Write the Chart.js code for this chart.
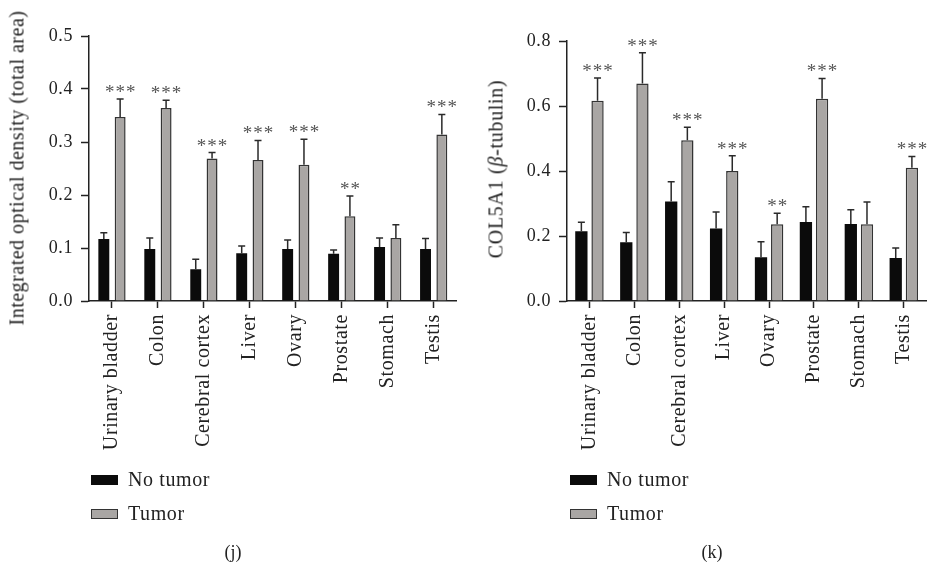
<!DOCTYPE html>
<html lang="en">
<head>
    <meta charset="UTF-8">
    <title>COL5A1 expression: No tumor vs Tumor</title>
    <script src="https://cdn.jsdelivr.net/npm/chart.js"></script>
    <style>
        body { margin: 0; width: 928px; height: 562px; overflow: hidden; background: #fff;
               font-family: "Liberation Serif", serif; color: #222; position: relative; }
        canvas { position: absolute; top: 0; }
        #graficoJ { left: 0; }
        #graficoK { left: 464px; }
        .titulo-y { position: absolute; white-space: nowrap; font-size: 20px;
                    transform: translate(-50%, -50%) rotate(-90deg); }
        .leyenda { position: absolute; font-size: 20px; letter-spacing: 0.6px;
                   display: flex; align-items: center; }
        .caja { width: 27px; height: 10px; margin-right: 10px; box-sizing: border-box; }
        .negra { background: #0b0b0b; }
        .gris { background: #a9a6a4; border: 1.5px solid #333; }
        .pie { position: absolute; font-size: 18px; transform: translate(-50%, -50%); }
    </style>
</head>
<body>
    <canvas id="graficoJ" width="464" height="480"></canvas>
    <canvas id="graficoK" width="470" height="480"></canvas>

    <div class="titulo-y" style="left:17px; top:168px; letter-spacing:0.5px;">Integrated optical density (total area)</div>
    <div class="titulo-y" style="left:496px; top:169px; letter-spacing:0.7px;">COL5A1 (<i>β</i>-tubulin)</div>

    <div class="leyenda" style="left:91px; top:468px;"><span class="caja negra"></span>No tumor</div>
    <div class="leyenda" style="left:91px; top:502px;"><span class="caja gris"></span>Tumor</div>
    <div class="leyenda" style="left:570px; top:468px;"><span class="caja negra"></span>No tumor</div>
    <div class="leyenda" style="left:570px; top:502px;"><span class="caja gris"></span>Tumor</div>

    <div class="pie" style="left:233px; top:552px;">(j)</div>
    <div class="pie" style="left:712px; top:552px;">(k)</div>

    <script>
        const tejidos = ["Urinary bladder", "Colon", "Cerebral cortex", "Liver",
                         "Ovary", "Prostate", "Stomach", "Testis"];

        // (j) densidad óptica integrada
        const sinTumorJ    = [0.117, 0.098, 0.060, 0.090, 0.098, 0.089, 0.102, 0.098];
        const sinTumorJErr = [0.012, 0.021, 0.019, 0.014, 0.017, 0.007, 0.017, 0.020];
        const tumorJ       = [0.347, 0.364, 0.269, 0.266, 0.257, 0.160, 0.119, 0.314];
        const tumorJErr    = [0.034, 0.015, 0.011, 0.037, 0.048, 0.038, 0.025, 0.038];
        const signifJ      = ["***", "***", "***", "***", "***", "**", "", "***"];
        const ticksJ       = [0, 0.1, 0.2, 0.3, 0.4, 0.5];

        // (k) COL5A1 / beta-tubulina
        const sinTumorK    = [0.215, 0.181, 0.306, 0.223, 0.135, 0.243, 0.237, 0.132];
        const sinTumorKErr = [0.027, 0.030, 0.061, 0.051, 0.047, 0.047, 0.044, 0.031];
        const tumorK       = [0.616, 0.669, 0.495, 0.400, 0.236, 0.622, 0.236, 0.410];
        const tumorKErr    = [0.070, 0.095, 0.040, 0.047, 0.034, 0.063, 0.069, 0.035];
        const signifK      = ["***", "***", "***", "***", "**", "***", "", "***"];
        const ticksK       = [0, 0.2, 0.4, 0.6, 0.8];

        const fuente = '"Liberation Serif", serif';
        const colorEje = '#222';

        // la fuente original es algo mas ancha: se abre un poco el espaciado
        const pluginEspaciado = {
            id: 'espaciado',
            beforeDraw(chart) { chart.ctx.letterSpacing = '0.6px'; }
        };

        // barras de error (solo hacia arriba) y asteriscos
        const pluginErrores = {
            id: 'errores',
            afterDatasetsDraw(chart) {
                const ctx = chart.ctx;
                const escalaY = chart.scales.y;
                chart.data.datasets.forEach((ds, di) => {
                    const meta = chart.getDatasetMeta(di);
                    meta.data.forEach((barra, i) => {
                        const arriba = escalaY.getPixelForValue(ds.data[i] + ds.errores[i]);
                        ctx.save();
                        ctx.strokeStyle = '#2a2a2a';
                        ctx.lineWidth = 1.5;
                        ctx.beginPath();
                        ctx.moveTo(barra.x, barra.y);
                        ctx.lineTo(barra.x, arriba);
                        ctx.moveTo(barra.x - 3.5, arriba);
                        ctx.lineTo(barra.x + 3.5, arriba);
                        ctx.stroke();
                        if (ds.asteriscos && ds.asteriscos[i]) {
                            ctx.letterSpacing = '1px';
                            ctx.fillStyle = '#555';
                            ctx.font = '19px ' + fuente;
                            ctx.textAlign = 'center';
                            ctx.textBaseline = 'alphabetic';
                            ctx.fillText(ds.asteriscos[i], barra.x + 0.5, arriba - 1);
                        }
                        ctx.restore();
                    });
                });
            }
        };

        function crearGrafico(id, valores, cfg) {
            const ctx = document.getElementById(id).getContext('2d');
            return new Chart(ctx, {
                type: 'bar',
                data: {
                    labels: tejidos,
                    datasets: [
                        {
                            label: 'No tumor',
                            data: valores.sinTumor,
                            errores: valores.sinTumorErr,
                            backgroundColor: '#0b0b0b',
                            borderWidth: 0,
                            categoryPercentage: cfg.catPct,
                            barPercentage: cfg.barPct
                        },
                        {
                            label: 'Tumor',
                            data: valores.tumor,
                            errores: valores.tumorErr,
                            asteriscos: valores.signif,
                            backgroundColor: '#a9a6a4',
                            borderColor: '#333',
                            borderWidth: 1.5,
                            categoryPercentage: cfg.catPct,
                            barPercentage: cfg.barPct
                        }
                    ]
                },
                options: {
                    responsive: false,
                    animation: false,
                    layout: { padding: { left: 0, right: cfg.derecha, top: cfg.arriba, bottom: 0 } },
                    plugins: {
                        legend: { display: false },
                        tooltip: { enabled: false }
                    },
                    scales: {
                        x: {
                            grid: { display: true, drawOnChartArea: false, offset: false,
                                    tickLength: 7, tickWidth: 1.5, tickColor: colorEje },
                            border: { display: true, color: colorEje, width: 1.5 },
                            ticks: { minRotation: 90, maxRotation: 90, padding: 6,
                                     color: colorEje, font: { family: fuente, size: 20 } },
                            afterFit: s => { s.height = 480 - 301; }
                        },
                        y: {
                            min: 0,
                            max: cfg.ticks[cfg.ticks.length - 1],
                            afterBuildTicks: s => { s.ticks = cfg.ticks.map(v => ({ value: v })); },
                            grid: { display: true, drawOnChartArea: false,
                                    tickLength: 8, tickWidth: 1.5, tickColor: colorEje },
                            border: { display: true, color: colorEje, width: 1.5 },
                            ticks: { padding: 8, color: colorEje,
                                     font: { family: fuente, size: 18 },
                                     callback: v => Number(v).toFixed(1) },
                            afterFit: s => { s.width = cfg.izquierda; }
                        }
                    }
                },
                plugins: [pluginEspaciado, pluginErrores]
            });
        }

        crearGrafico('graficoJ',
            { sinTumor: sinTumorJ, sinTumorErr: sinTumorJErr, tumor: tumorJ, tumorErr: tumorJErr, signif: signifJ },
            { ticks: ticksJ, izquierda: 89, derecha: 5, arriba: 36, catPct: 0.71, barPct: 0.67 });

        crearGrafico('graficoK',
            { sinTumor: sinTumorK, sinTumorErr: sinTumorKErr, tumor: tumorK, tumorErr: tumorKErr, signif: signifK },
            { ticks: ticksK, izquierda: 103, derecha: 3, arriba: 41, catPct: 0.72, barPct: 0.76 });
    </script>
</body>
</html>
